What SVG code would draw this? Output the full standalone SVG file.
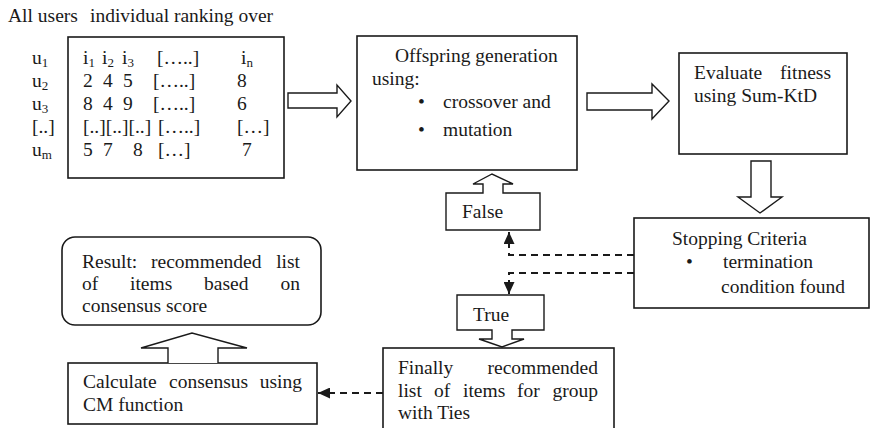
<svg xmlns="http://www.w3.org/2000/svg" width="871" height="428" viewBox="0 0 871 428">
<style>
text{font-family:"Liberation Serif","Times New Roman",serif;font-size:19.5px;fill:#1a1a1a}
.sub{font-size:13px}
.box{fill:#fff;stroke:#1a1a1a;stroke-width:1.6}
.blk{fill:#fff;stroke:#1a1a1a;stroke-width:1.4;stroke-linejoin:miter}
.dash{fill:none;stroke:#1a1a1a;stroke-width:2;stroke-dasharray:7,5}
</style>
<defs>
<marker id="tri" markerUnits="userSpaceOnUse" markerWidth="12" markerHeight="11" refX="12" refY="5.5" orient="auto">
<path d="M0,0 L12,5.5 L0,11 Z" fill="#1a1a1a"/>
</marker>
</defs>
<text x="8" y="22">All users</text>
<text x="90" y="22">individual ranking over</text>
<g id="matrix">
<rect class="box" x="68" y="37" width="216" height="141"/>
<text x="32" y="64">u<tspan class="sub" dy="3">1</tspan></text>
<text x="32" y="87">u<tspan class="sub" dy="3">2</tspan></text>
<text x="32" y="110">u<tspan class="sub" dy="3">3</tspan></text>
<text x="32" y="133">[..]</text>
<text x="32" y="156">u<tspan class="sub" dy="3">m</tspan></text>
<text x="83" y="64">i<tspan class="sub" dy="3">1</tspan></text>
<text x="102" y="64">i<tspan class="sub" dy="3">2</tspan></text>
<text x="122" y="64">i<tspan class="sub" dy="3">3</tspan></text>
<text x="157" y="64">[…..]</text>
<text x="241" y="64">i<tspan class="sub" dy="3">n</tspan></text>
<text x="83" y="87">2</text><text x="103" y="87">4</text><text x="123" y="87">5</text>
<text x="153" y="87">[…..]</text><text x="237" y="87">8</text>
<text x="83" y="110">8</text><text x="103" y="110">4</text><text x="123" y="110">9</text>
<text x="153" y="110">[…..]</text><text x="237" y="110">6</text>
<text x="83" y="133">[..][..][..]</text><text x="158" y="133">[…..]</text><text x="237" y="133">[…]</text>
<text x="83" y="156">5</text><text x="103" y="156">7</text><text x="133" y="156">8</text>
<text x="158" y="156">[…]</text><text x="242" y="156">7</text>
</g>
<g id="offspring">
<rect class="box" x="357" y="36" width="220" height="134"/>
<text x="395" y="62">Offspring generation</text>
<text x="372" y="85">using:</text>
<text x="418" y="108">•</text><text x="443" y="108">crossover and</text>
<text x="418" y="136">•</text><text x="443" y="136">mutation</text>
</g>
<g id="evaluate">
<rect class="box" x="679" y="53" width="168" height="101"/>
<text x="694" y="79">Evaluate</text>
<text x="831" y="79" text-anchor="end">fitness</text>
<text x="694" y="102">using Sum-KtD</text>
</g>
<g id="stopping">
<rect class="box" x="634" y="218" width="235" height="90"/>
<text x="672" y="245">Stopping Criteria</text>
<text x="686" y="268">•</text>
<text x="723" y="268">termination</text>
<text x="721" y="293">condition found</text>
</g>
<g id="false">
<polygon class="blk" points="446,193 483,193 483,184 473,184 492,174 513,184 503,184 503,193 540,193 540,230 446,230"/>
<text x="462" y="218">False</text>
</g>
<g id="true">
<polygon class="blk" points="457,295 544,295 544,330 512,330 512,339 524,339 502,347 479,339 492,339 492,330 457,330"/>
<text x="473" y="321">True</text>
</g>
<g id="finally">
<rect class="box" x="383" y="348" width="231" height="95"/>
<text x="398" y="374">Finally</text>
<text x="598" y="374" text-anchor="end">recommended</text>
<text y="397"><tspan x="398">list</tspan><tspan x="434">of</tspan><tspan x="463">items</tspan><tspan x="517">for</tspan></text>
<text x="598" y="397" text-anchor="end">group</text>
<text x="398" y="419">with Ties</text>
</g>
<g id="result">
<rect class="box" x="62" y="237" width="259" height="88" rx="13" ry="13"/>
<text x="82" y="268">Result:</text>
<text x="151" y="268">recommended</text>
<text x="300" y="268" text-anchor="end">list</text>
<text y="290"><tspan x="82">of</tspan><tspan x="130">items</tspan><tspan x="204">based</tspan></text>
<text x="300" y="290" text-anchor="end">on</text>
<text x="82" y="312">consensus score</text>
</g>
<g id="calculate">
<rect class="box" x="68" y="363" width="249" height="61"/>
<text x="83" y="388">Calculate</text>
<text x="169" y="388">consensus</text>
<text x="302" y="388" text-anchor="end">using</text>
<text x="83" y="411">CM function</text>
</g>
<g id="connectors">
<polygon class="blk" points="288,93 337,93 337,85 351,101 337,117 337,108 288,108"/>
<polygon class="blk" points="587,93 652,93 652,84 669,101 652,119 652,110 587,110"/>
<polygon class="blk" points="751,161 771,161 771,197 782,197 760,213 738,197 751,197"/>
<polyline class="blk" points="168,363 168,348 141,348 192,333 247,348 218,348 218,363"/>
<path class="dash" d="M634,255 H509 V232" marker-end="url(#tri)"/>
<path class="dash" d="M634,273 H509 V294" marker-end="url(#tri)"/>
<path class="dash" d="M383,393 H318" marker-end="url(#tri)"/>
</g>
</svg>
